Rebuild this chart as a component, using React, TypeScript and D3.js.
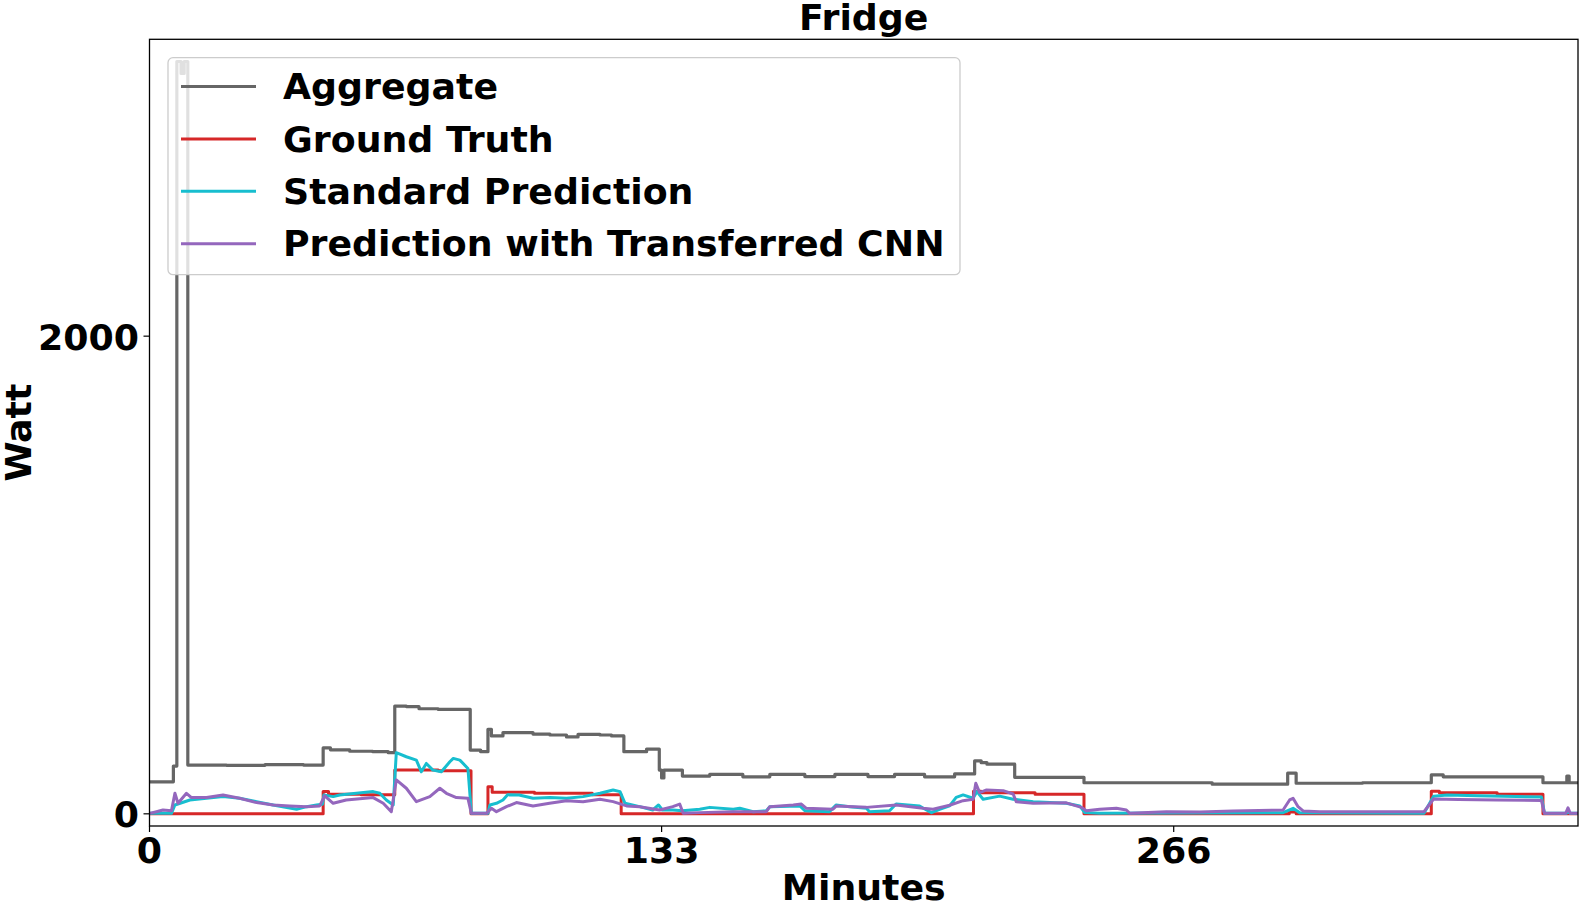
import React from "react";
import * as d3 from "d3";

// ---------- data ----------
const title = "Fridge";
const xLabel = "Minutes";
const yLabel = "Watt";
const xTicks = [0, 133, 266];
const yTicks = [0, 2000];
const seriesNames = ["Aggregate", "Ground Truth", "Standard Prediction", "Prediction with Transferred CNN"];
const seriesColors = ["#666666", "#d62728", "#17becf", "#9467bd"];

// step series: [minute, watt] (value held until next point)
const aggregate: [number, number][] = [
  [0, 134], [6.2, 200], [7.1, 3150], [8.2, 3100], [9.0, 3150], [9.95, 204],
  [20, 203], [30, 206], [40, 204], [45.1, 276], [47, 268], [52, 262], [58, 260], [62, 256],
  [63.7, 451], [66.7, 449], [70, 440], [75, 437], [83.3, 267], [86, 260],
  [87.9, 354], [88.8, 326], [91.8, 340], [99.6, 334], [104, 330], [108.3, 322], [111.3, 333], [117, 330], [120, 326],
  [123.2, 260], [129.1, 271], [132.4, 183], [133.0, 150], [133.6, 183], [138.4, 158],
  [145.5, 165], [154.1, 155], [161.1, 165], [170.2, 156], [178, 165], [186.6, 156], [193.5, 165],
  [201.3, 155], [209.1, 167], [214.3, 222], [216.0, 214], [217.5, 208], [224.7, 153],
  [242.7, 130], [276, 124], [295.6, 170], [297.8, 128], [315, 130],
  [332.9, 163], [336, 155], [361.9, 130], [368.1, 158], [368.7, 130], [371, 130],
];

const groundTruth: [number, number][] = [
  [0, 0], [45.1, 93], [46.5, 82], [55, 80], [63.7, 183], [75, 180], [83.5, 0],
  [87.9, 113], [89, 90], [100, 86], [115, 80], [122.5, 0],
  [214.0, 95], [216, 88], [230, 82], [242.7, 0], [296.0, 8], [297.8, 0],
  [332.9, 95], [335, 88], [350, 82], [361.9, 0], [371, 0],
];

// continuous series: [minute, watt]
const standardPrediction: [number, number][] = [
  [0, 2], [5.7, 2], [6.6, 37], [10.5, 58], [14.8, 65], [19.1, 72], [23.4, 65], [27.8, 51], [32.1, 37],
  [38.2, 19], [40.8, 30], [43.4, 37], [44.9, 40], [45.3, 79], [47.7, 72], [49.4, 79], [53.7, 86], [58.1, 93],
  [59.8, 86], [61.5, 58], [63.3, 37], [64.1, 256], [66.7, 239], [69.3, 225], [70.6, 176], [71.9, 211],
  [73.6, 183], [75.8, 176], [78.0, 218], [78.9, 232], [80.6, 225], [82.7, 190], [83.6, 2], [87.9, 2],
  [88.4, 37], [90.1, 44], [91.8, 58], [93, 80], [96, 79], [99.6, 65], [104, 68], [108.3, 65], [112.6, 72],
  [117, 86], [120.4, 100], [122.2, 93], [123.5, 44], [127.3, 30], [130.7, 16], [132.2, 37], [133.2, 16],
  [135.9, 16], [138.4, 13], [142.9, 19], [145.5, 27], [151.6, 19], [153.3, 23], [156.8, 9], [160.2, 13],
  [161.1, 30], [168.9, 33], [170.2, 13], [176.6, 9], [178.3, 37], [181.8, 30], [186.2, 23], [187.0, 9],
  [192.2, 13], [193.9, 41], [200.0, 33], [201.8, 16], [203.1, 5], [205.2, 19], [207.8, 33], [209.5, 69],
  [211.3, 79], [213.9, 65], [214.9, 93], [216.5, 61], [220.8, 74], [224.3, 61], [229.5, 51], [238.1, 44],
  [241.6, 33], [242.9, 5], [246.8, 2], [294.4, 5], [297.0, 23], [298.7, 5], [331, 2], [333.5, 74],
  [337, 79], [345, 76], [355, 72], [361.5, 70], [362.3, 2], [368.0, 2], [368.4, 10], [369, 2], [371, 2],
];

const transferredPrediction: [number, number][] = [
  [0, 2], [1.8, 9], [3.5, 16], [5.7, 13], [6.6, 86], [7.4, 44], [9.6, 86], [10.9, 68], [14.8, 68],
  [19.1, 79], [23.4, 65], [27.8, 47], [32.1, 37], [36.4, 33], [40.8, 30], [44.2, 33], [45.5, 75],
  [47.7, 44], [51.1, 58], [58.1, 68], [60.7, 44], [62.8, 9], [64.1, 142], [66.7, 107], [69.3, 51],
  [72.8, 72], [75.4, 107], [77.1, 86], [79.7, 68], [82.7, 65], [83.6, 2], [87.5, 2], [88.8, 23],
  [90.1, 9], [92.7, 30], [95.3, 47], [99.6, 33], [103.9, 44], [108.3, 55], [112.6, 51], [117.0, 61],
  [120.4, 51], [123.9, 33], [127.3, 30], [132.5, 16], [135.9, 30], [137.7, 41], [138.6, 2], [142.9, 5],
  [151.6, 9], [160.2, 9], [161.1, 30], [167.2, 37], [169.3, 41], [170.6, 23], [177.5, 19], [178.4, 33],
  [186.2, 27], [193.9, 37], [200.9, 23], [203.5, 19], [207.8, 36], [211.3, 55], [213.9, 61], [214.6, 128],
  [215.6, 89], [217.4, 100], [221.7, 97], [224.3, 83], [225.1, 51], [229.5, 44], [238.1, 46], [242.0, 27],
  [243.3, 13], [246.8, 19], [251.1, 23], [253.7, 16], [254.6, 2], [264.1, 9], [272.8, 8], [281.4, 12],
  [294.4, 16], [296.1, 58], [297.0, 65], [298.3, 30], [299.6, 12], [303.9, 9], [331, 9], [333.5, 62],
  [340, 60], [350, 58], [361.5, 56], [362.3, 2], [367.8, 2], [368.4, 25], [369, 2], [371, 2],
];

// ---------- layout ----------
const W = 1584;
const H = 906;
const plotLeft = 149.5;
const plotRight = 1578;
const plotTop = 39.3;
const plotBottom = 826;
const FONT = "'DejaVu Sans', sans-serif";
const FS = 36.3;

export default function App() {
  const x = d3.scaleLinear().domain([0, 371]).range([plotLeft, plotRight]);
  const y = d3.scaleLinear().domain([-51, 3243]).range([plotBottom, plotTop]);

  const stepLine = d3
    .line<[number, number]>()
    .x((d) => x(d[0]))
    .y((d) => y(d[1]))
    .curve(d3.curveStepAfter);
  const smoothLine = d3
    .line<[number, number]>()
    .x((d) => x(d[0]))
    .y((d) => y(d[1]))
    .curve(d3.curveLinear);

  const lw = 3;
  const legendX = 168;
  const legendY = 57.7;
  const legendW = 792;
  const legendH = 217;
  const rowY0 = 86.5;
  const rowGap = 52.4;

  return (
    <svg
      width={W}
      height={H}
      style={{ position: "absolute", left: 0, top: 0, background: "#fff" }}
      fontFamily={FONT}
      fontWeight="bold"
    >
      <defs>
        <clipPath id="plotClip">
          <rect x={plotLeft} y={plotTop} width={plotRight - plotLeft} height={plotBottom - plotTop} />
        </clipPath>
      </defs>
      <rect x={0} y={0} width={W} height={H} fill="#fff" />

      {/* series */}
      <g clipPath="url(#plotClip)" fill="none" strokeLinejoin="round" strokeLinecap="butt">
        <path d={stepLine(aggregate) || ""} stroke={seriesColors[0]} strokeWidth={3.2} />
        <path d={stepLine(groundTruth) || ""} stroke={seriesColors[1]} strokeWidth={lw} />
        <path d={smoothLine(standardPrediction) || ""} stroke={seriesColors[2]} strokeWidth={lw} />
        <path d={smoothLine(transferredPrediction) || ""} stroke={seriesColors[3]} strokeWidth={lw} />
      </g>

      {/* axes frame */}
      <rect
        x={plotLeft}
        y={plotTop}
        width={plotRight - plotLeft}
        height={plotBottom - plotTop}
        fill="none"
        stroke="#000"
        strokeWidth={1.3}
      />

      {/* y ticks */}
      {yTicks.map((t) => (
        <g key={"y" + t}>
          <line x1={plotLeft - 6} x2={plotLeft} y1={y(t)} y2={y(t)} stroke="#000" strokeWidth={1.2} />
          <text x={139} y={y(t) + 13.5} textAnchor="end" fontSize={FS} fill="#000">
            {t}
          </text>
        </g>
      ))}

      {/* x ticks */}
      {xTicks.map((t) => (
        <g key={"x" + t}>
          <line x1={x(t)} x2={x(t)} y1={plotBottom} y2={plotBottom + 6} stroke="#000" strokeWidth={1.2} />
          <text x={x(t)} y={863} textAnchor="middle" fontSize={FS} fill="#000">
            {t}
          </text>
        </g>
      ))}

      {/* labels */}
      <text x={(plotLeft + plotRight) / 2} y={30} textAnchor="middle" fontSize={FS} fill="#000">
        {title}
      </text>
      <text x={(plotLeft + plotRight) / 2} y={900} textAnchor="middle" fontSize={FS} fill="#000">
        {xLabel}
      </text>
      <text
        transform={`translate(31, ${(plotTop + plotBottom) / 2}) rotate(-90)`}
        textAnchor="middle"
        fontSize={FS}
        fill="#000"
      >
        {yLabel}
      </text>

      {/* legend */}
      <rect
        x={legendX}
        y={legendY}
        width={legendW}
        height={legendH}
        rx={5}
        ry={5}
        fill="#fff"
        fillOpacity={0.8}
        stroke="#cccccc"
        strokeWidth={1.3}
      />
      {seriesNames.map((name, i) => {
        const ry = rowY0 + i * rowGap;
        return (
          <g key={name}>
            <line x1={181} x2={256} y1={ry} y2={ry} stroke={seriesColors[i]} strokeWidth={lw} />
            <text x={283} y={ry + 12.6} fontSize={FS} fill="#000">
              {name}
            </text>
          </g>
        );
      })}
    </svg>
  );
}
